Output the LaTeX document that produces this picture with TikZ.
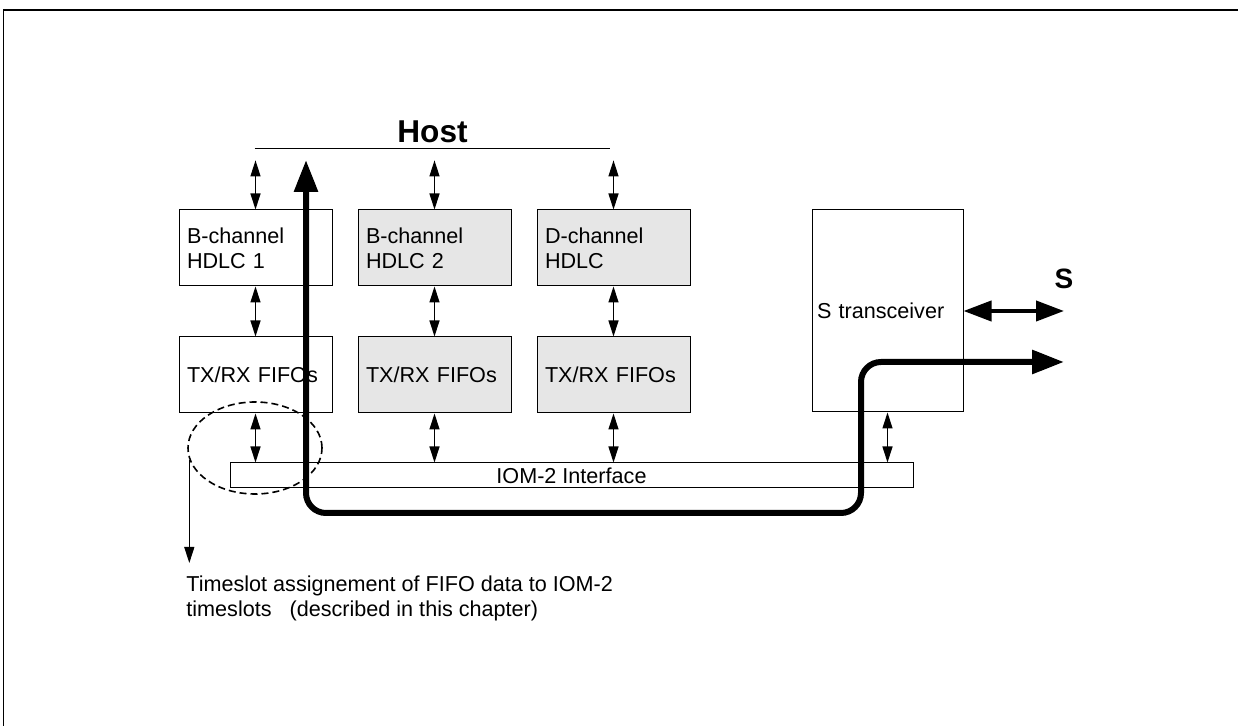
\documentclass[tikz,border=0pt]{standalone}
\usepackage{fontspec}
\setmainfont{Liberation Sans}
\usetikzlibrary{positioning,arrows.meta,shapes.geometric}
\definecolor{grisbox}{HTML}{E6E6E6}

\begin{document}
\begin{tikzpicture}[x=0.5pt, y=-0.5pt, font=\fontsize{10.8}{12.5}\selectfont,
      blk/.style={draw, line width=0.5pt, minimum height=38pt, text width=68.5pt,
                  inner xsep=4pt, inner ysep=0pt, align=left},
      gblk/.style={blk, fill=grisbox},
      dbl/.style={line width=0.6pt, {Triangle[length=8pt,width=5pt]}-{Triangle[length=8pt,width=5pt]}},
      flow/.style={line width=3pt, rounded corners=10pt,
                   {Triangle[length=16pt,width=11.5pt]}-{Triangle[length=16pt,width=11.5pt]}}]
    \useasboundingbox (0,0) rectangle (1238,726);
    \draw[line width=1pt] (3,10) -- (1238,10);
    \draw[line width=0.5pt] (3,10) -- (3,726);
    % host bus
    \node[minimum width=177.5pt, minimum height=5.5pt, inner sep=0pt] (bus) at (432.5,154.5) {};
    \draw[line width=0.5pt] (bus.north west) -- (bus.north east);
    \node[above=1pt of bus, inner sep=1.5pt, font=\fontsize{15.8}{18}\selectfont\bfseries] (host) {Host};
    % blocks
    \node[blk] (b1) at (255.5,248) {B-channel\\HDLC 1};
    \node[gblk, right=12.5pt of b1] (b2) {B-channel\\HDLC 2};
    \node[gblk, right=12.5pt of b2] (dch) {D-channel\\HDLC};
    \node[blk, below=25pt of b1] (f1) {TX/RX FIFOs};
    \node[gblk, below=25pt of b2] (f2) {TX/RX FIFOs};
    \node[gblk, below=25pt of dch] (f3) {TX/RX FIFOs};
    \node[blk, minimum height=101pt, text width=70.5pt, inner xsep=2.5pt] (strx) at (887.5,311) {S transceiver};
    \node[draw, line width=0.5pt, minimum width=341.5pt, minimum height=12.5pt, inner sep=0pt] (iom) at (571.5,475.5) {IOM-2 Interface};
    \draw[dbl] (b1.north |- bus.south) -- (b1.north); \draw[dbl] (b2.north |- bus.south) -- (b2.north);
    \draw[dbl] (dch.north |- bus.south) -- (dch.north);
    \draw[dbl] (b1) -- (f1); \draw[dbl] (b2) -- (f2); \draw[dbl] (dch) -- (f3);
    \draw[dbl] (f1.south) -- (f1.south |- iom.north); \draw[dbl] (f2.south) -- (f2.south |- iom.north);
    \draw[dbl] (f3.south) -- (f3.south |- iom.north); \draw[dbl] (strx.south) -- (strx.south |- iom.north);
    % S line
    \coordinate (sEnd) at (1064,311);
    \draw[line width=2pt, {Triangle[length=14pt,width=10pt]}-{Triangle[length=14pt,width=10pt]}] (strx.east) -- (sEnd);
    \node[above=8pt of sEnd, inner sep=3pt, font=\fontsize{14}{16}\selectfont\bfseries] (slbl) {S};
    % timeslot note
    \node[ellipse, draw, dash pattern=on 3.5pt off 2pt, line width=0.8pt, minimum width=67pt,
          minimum height=46pt, inner sep=0pt] (slot) at (255,448) {};
    \node[anchor=north west, align=left, inner xsep=0pt, inner ysep=6pt] (note) at (186,563)
         {Timeslot assignement of FIFO data to IOM-2\\timeslots~~~(described in this chapter)};
    \draw[line width=0.6pt, -{Triangle[length=8pt,width=5pt]}] (slot.190) -- (slot.190 |- note.north);
    % data path
    \coordinate (upTip) at (306,160);
    \coordinate (loopR) at (861,513);
    \coordinate (outTip) at (1064,362);
    \draw[flow] (upTip) |- (loopR) |- (outTip);
\end{tikzpicture}
\end{document}
